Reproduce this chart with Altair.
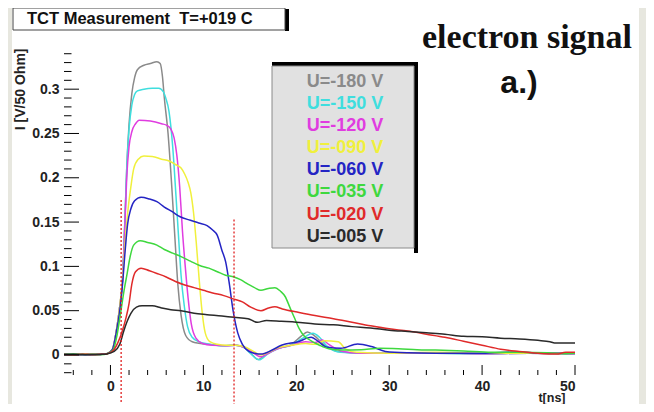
import altair as alt
import pandas as pd

labels = ["U=-180 V", "U=-150 V", "U=-120 V", "U=-090 V",
          "U=-060 V", "U=-035 V", "U=-020 V", "U=-005 V"]
colors = ["#8a8a8a", "#3fdede", "#e03ce0", "#f0f03c",
          "#2424c4", "#3ed83e", "#e02a2a", "#2a2a2a"]

t_180 = [-5, -4, -3, -2, -1, -0.4, 0.2, 0.6, 1.0, 1.3, 1.55, 1.75, 2.0, 2.3, 2.6, 2.9,
         3.6, 4.3, 5.0, 5.35, 5.6, 5.8, 6.2, 6.6, 6.95, 7.25, 7.6, 8.1, 8.8, 10.5, 12.0, 13.5,
         14.3, 15.1, 15.9, 16.8, 18.0, 19.4, 20.5, 21.2, 21.9, 23.0, 24.5, 27.0, 30, 35, 40, 45, 50]
i_180 = [0.0005, 0.0, 0.0008, 0.0003, 0.0008, 0.0015, 0.006, 0.025, 0.055, 0.085, 0.15, 0.21,
         0.26, 0.295, 0.313, 0.322, 0.327, 0.329, 0.331, 0.329, 0.314, 0.29, 0.25, 0.19, 0.13, 0.08,
         0.045, 0.022, 0.015, 0.012, 0.0105, 0.011, 0.009, 0.002, -0.005, 0.001, 0.0075, 0.0115,
         0.021, 0.026, 0.022, 0.0115, 0.004, 0.002, 0.002, 0.002, 0.0015, 0.002, 0.001]

t_150 = [-5, -4, -3, -2, -1, -0.4, 0.2, 0.6, 1.0, 1.3, 1.55, 1.75, 2.0, 2.3, 2.6, 2.9,
         3.6, 4.5, 5.2, 5.7, 5.95, 6.3, 6.7, 7.05, 7.35, 7.6, 7.95, 8.3, 8.8, 9.5, 10.5, 12.0,
         13.5, 14.3, 15.1, 16.0, 16.9, 18.0, 19.4, 20.7, 21.8, 22.5, 23.3, 24.8, 27.5, 30,
         35, 40, 45, 50]
i_150 = [0.0008, 0.0002, 0.0005, 0.0008, 0.0005, 0.0015, 0.006, 0.025, 0.055, 0.085, 0.15, 0.21,
         0.255, 0.282, 0.294, 0.298, 0.300, 0.301, 0.301, 0.297, 0.290, 0.275, 0.235, 0.18, 0.13,
         0.09, 0.055, 0.032, 0.02, 0.015, 0.0125, 0.0105, 0.011, 0.009, 0.0015, -0.0055, 0.001,
         0.007, 0.011, 0.019, 0.0245, 0.02, 0.01, 0.003, 0.002, 0.0025, 0.002, 0.0015, 0.002, 0.0015]

t_120 = [-5, -4, -3, -2, -1, -0.4, 0.2, 0.6, 1.0, 1.3, 1.55, 1.75, 2.0, 2.3, 2.7, 3.1,
         4.3, 5.5, 6.1, 6.5, 6.85, 7.15, 7.45, 7.75, 8.05, 8.35, 8.7, 9.2, 9.9, 11.0, 12.5, 13.5,
         14.5, 15.3, 16.2, 17.0, 18.0, 19.5, 21.0, 22.0, 22.8, 23.5, 25.0, 27.0, 30, 35, 40, 45, 50]
i_120 = [0.0005, 0.0008, 0.0002, 0.0005, 0.001, 0.0015, 0.006, 0.025, 0.055, 0.085, 0.145, 0.2,
         0.235, 0.252, 0.261, 0.265, 0.264, 0.261, 0.259, 0.255, 0.245, 0.225, 0.19, 0.14, 0.1,
         0.065, 0.035, 0.019, 0.013, 0.011, 0.0105, 0.011, 0.008, 0.003, -0.002, 0.002, 0.007,
         0.011, 0.015, 0.014, 0.017, 0.012, 0.004, 0.002, 0.002, 0.0025, 0.0015, 0.002, 0.0015]

t_090 = [-5, -4, -3, -2, -1, -0.4, 0.2, 0.6, 1.0, 1.3, 1.6, 1.9, 2.2, 2.5, 3.0, 3.6,
         4.5, 5.5, 6.3, 7.0, 7.6, 8.0, 8.35, 8.65, 8.95, 9.25, 9.55, 9.85, 10.2, 10.7, 11.5, 12.5,
         13.5, 14.5, 15.4, 16.2, 17.0, 18.0, 19.5, 21.0, 22.0, 23.0, 24.5, 25.3, 26.5, 30,
         35, 40, 45, 50]
i_090 = [0.001, 0.0003, 0.0006, 0.0009, 0.0004, 0.0015, 0.006, 0.025, 0.055, 0.085, 0.13, 0.165,
         0.19, 0.21, 0.221, 0.2245, 0.224, 0.221, 0.219, 0.215, 0.211, 0.204, 0.195, 0.183, 0.16,
         0.125, 0.085, 0.05, 0.025, 0.015, 0.012, 0.011, 0.011, 0.009, 0.004, 0.0, 0.003, 0.008,
         0.011, 0.013, 0.012, 0.016, 0.015, 0.007, 0.003, 0.002, 0.003, 0.002, 0.002, 0.002]

t_060 = [-5, -4, -3, -2, -1, -0.4, 0.2, 0.6, 1.0, 1.3, 1.6, 1.85, 2.2, 2.6, 3.3, 4.2,
         5.0, 5.8, 6.6, 7.5, 8.6, 9.5, 10.4, 11.0, 11.5, 12.0, 12.4, 12.8, 13.2, 13.7, 14.2, 14.9,
         15.5, 16.2, 17.3, 18.4, 20.2, 21.6, 22.4, 23.2, 24.8, 26.6, 28.1, 29.6, 32, 35,
         40, 44, 46, 50]
i_060 = [0.0008, 0.0005, 0.0003, 0.0008, 0.0006, 0.0015, 0.006, 0.024, 0.05, 0.08, 0.12, 0.148,
         0.165, 0.174, 0.178, 0.176, 0.173, 0.167, 0.162, 0.156, 0.152, 0.149, 0.146, 0.141, 0.135,
         0.118, 0.105, 0.08, 0.05, 0.025, 0.012, 0.004, 0.002, 0.001, 0.005, 0.011, 0.015, 0.02,
         0.015, 0.009, 0.0075, 0.0125, 0.0095, 0.004, 0.0025, 0.002, 0.002, 0.0035, 0.002, 0.002]

t_035 = [-5, -4, -3, -2, -1, -0.4, 0.3, 0.7, 1.1, 1.5, 1.8, 2.1, 2.5, 3.2, 4.0, 5.0,
         5.8, 6.7, 7.6, 8.6, 9.6, 10.6, 11.5, 12.4, 13.3, 14.0, 14.8, 15.5, 16.2, 17.0, 17.7, 18.3,
         18.8, 19.3, 19.8, 20.3, 20.8, 21.6, 22.5, 23.5, 25.0, 27.0, 29.0, 31.0, 33.0, 35.0,
         38, 41, 44, 47, 49, 50]
i_035 = [0.0005, 0.001, 0.0004, 0.0008, 0.0006, 0.0012, 0.006, 0.022, 0.048, 0.075, 0.092, 0.11,
         0.124, 0.129, 0.127, 0.124, 0.119, 0.115, 0.111, 0.106, 0.101, 0.098, 0.094, 0.09, 0.088,
         0.085, 0.08, 0.076, 0.073, 0.075, 0.076, 0.072, 0.066, 0.054, 0.042, 0.03, 0.022, 0.016,
         0.011, 0.007, 0.0055, 0.006, 0.0075, 0.007, 0.006, 0.0055, 0.0045, 0.003, 0.003, 0.0025,
         0.0015, 0.002]

t_020 = [-5, -4, -3, -2, -1, -0.4, 0.3, 0.8, 1.3, 1.7, 2.0, 2.3, 2.7, 3.3, 4.2, 5.0,
         6.0, 7.0, 8.0, 9.0, 10.0, 11.0, 12.2, 13.3, 14.2, 15.1, 16.2, 17.0, 17.7, 18.5, 20.3, 22,
         24, 26, 28, 30, 32, 34, 36, 38, 40, 42, 44, 46, 48, 49, 50]
i_020 = [0.0006, 0.0003, 0.0009, 0.0005, 0.0008, 0.0012, 0.005, 0.014, 0.028, 0.043, 0.058, 0.08,
         0.094, 0.098, 0.095, 0.092, 0.088, 0.083, 0.079, 0.076, 0.073, 0.07, 0.067, 0.063, 0.06,
         0.054, 0.05, 0.053, 0.0545, 0.052, 0.048, 0.0445, 0.041, 0.037, 0.033, 0.0295, 0.027,
         0.0235, 0.02, 0.0155, 0.011, 0.0065, 0.004, 0.002, 0.001, 0.003, 0.003]

t_005 = [-5, -4, -3, -2, -1, -0.4, 0.4, 1.0, 1.4, 1.8, 2.2, 2.8, 3.4, 4.5, 5.5, 6.5,
         7.6, 9.0, 10.4, 12.0, 13.3, 14.8, 15.8, 16.8, 18.4, 20, 22, 24, 26, 28, 30, 32,
         34, 36, 38, 40, 42, 44, 46, 47.3, 47.8, 50]
i_005 = [0.0004, 0.0008, 0.0005, 0.0002, 0.0007, 0.0012, 0.004, 0.012, 0.026, 0.038, 0.047, 0.054,
         0.0555, 0.0555, 0.053, 0.051, 0.05, 0.047, 0.0455, 0.044, 0.0425, 0.041, 0.0368, 0.039,
         0.038, 0.037, 0.035, 0.034, 0.032, 0.0305, 0.028, 0.0265, 0.025, 0.0235, 0.021, 0.0205,
         0.019, 0.018, 0.0165, 0.015, 0.0135, 0.0135]

series_t = [t_180, t_150, t_120, t_090, t_060, t_035, t_020, t_005]
series_i = [i_180, i_150, i_120, i_090, i_060, i_035, i_020, i_005]

x_labels = [0, 10, 20, 30, 40, 50]
y_labels = [0, 0.05, 0.1, 0.15, 0.2, 0.25, 0.3]
x_minor = [-4, -2, 2, 4, 6, 8, 12, 14, 16, 18, 22, 24, 26, 28, 32, 34, 36, 38, 42, 44, 46, 48]
y_minor = [-0.02, -0.01, 0.01, 0.02, 0.03, 0.04, 0.06, 0.07, 0.08, 0.09, 0.11, 0.12, 0.13, 0.14,
           0.16, 0.17, 0.18, 0.19, 0.21, 0.22, 0.23, 0.24, 0.26, 0.27, 0.28, 0.29, 0.31, 0.32,
           0.33, 0.34]

marker_t = [1.15, 13.3]
marker_top = [0.175, 0.153]
marker_bottom = [-0.0553, -0.0553]

legend_y = [0.3081, 0.2832, 0.2582, 0.2333, 0.2083, 0.1834, 0.1584, 0.1335]

X_DOM = [-5, 50]
Y_DOM = [-0.0226, 0.3476]
W, H = 511, 328
SANS = "Liberation Sans, Arial, Helvetica, sans-serif"
SERIF = "Liberation Serif, Times New Roman, serif"

rows = []
for lab, ts, vs in zip(labels, series_t, series_i):
    for t, v in zip(ts, vs):
        rows.append({"series": lab, "t": t, "I": v})
curves = pd.DataFrame(rows)

xs = alt.Scale(domain=X_DOM, nice=False, zero=False)
ys = alt.Scale(domain=Y_DOM, nice=False, zero=False)
cs = alt.Scale(domain=labels, range=colors)

one = pd.DataFrame({"a": [0]})


def box(x1, x2, y1, y2, fill, stroke=None, sw=1.0):
    kw = dict(fill=fill, clip=False)
    if stroke is not None:
        kw["stroke"] = stroke
        kw["strokeWidth"] = sw
    else:
        kw["strokeWidth"] = 0
    return alt.Chart(one).mark_rect(**kw).encode(
        x=alt.value(x1), x2=alt.value(x2), y=alt.value(y1), y2=alt.value(y2))


canvas = box(-52, 575, -39, 357, "white")

lines = alt.Chart(curves).mark_line(strokeWidth=1.5, interpolate="monotone", clip=True).encode(
    x=alt.X("t:Q", scale=xs,
            axis=alt.Axis(values=x_labels, ticks=False, domain=False, grid=False, zindex=2,
                          labelFont=SANS, labelFontSize=14, labelFontWeight="bold",
                          labelColor="#222", labelPadding=4, title="t[ns]",
                          titleFont=SANS, titleFontSize=12.5, titleFontWeight="bold",
                          titleColor="#222", titleAlign="right", titleAnchor="end",
                          titleBaseline="bottom", titleX=W - 10, titleY=29)),
    y=alt.Y("I:Q", scale=ys,
            axis=alt.Axis(values=y_labels, format=".2~f", ticks=False, domain=False, grid=False,
                          zindex=2,
                          labelFont=SANS, labelFontSize=14, labelFontWeight="bold",
                          labelColor="#222", labelPadding=5, title="I [V/50 Ohm]",
                          titleFont=SANS, titleFontSize=14, titleFontWeight="bold",
                          titleColor="#222", titleAngle=270, titleAlign="right",
                          titleBaseline="middle", titleX=-44, titleY=1)),
    color=alt.Color("series:N", scale=cs, legend=None),
    detail="series:N",
)

yt_major = alt.Chart(pd.DataFrame({"v": y_labels})).mark_rule(color="black", strokeWidth=1).encode(
    y=alt.Y("v:Q", scale=ys), x=alt.value(0), x2=alt.value(15))
yt_minor = alt.Chart(pd.DataFrame({"v": y_minor})).mark_rule(color="black", strokeWidth=1).encode(
    y=alt.Y("v:Q", scale=ys), x=alt.value(0), x2=alt.value(7.5))
xt_major = alt.Chart(pd.DataFrame({"v": x_labels})).mark_rule(color="black", strokeWidth=1).encode(
    x=alt.X("v:Q", scale=xs), y=alt.value(H), y2=alt.value(H - 10))
xt_minor = alt.Chart(pd.DataFrame({"v": x_minor})).mark_rule(color="black", strokeWidth=1).encode(
    x=alt.X("v:Q", scale=xs), y=alt.value(H), y2=alt.value(H - 5))

markers = alt.Chart(pd.DataFrame({"t": marker_t, "top": marker_top, "bot": marker_bottom})).mark_rule(
    color="#e02020", strokeWidth=1.3, strokeDash=[2, 2], clip=False).encode(
    x=alt.X("t:Q", scale=xs), y=alt.Y("top:Q", scale=ys), y2="bot:Q")

# legend box
leg_shadow_r = box(350, 354, 15, 206, "black")
leg_shadow_t = box(208, 350, 15, 19, "black")
leg_fill = box(208, 350, 19, 201, "#e1e1e1", stroke="#8a8a8a", sw=1)
leg_text = alt.Chart(pd.DataFrame({"series": labels, "ly": legend_y})).mark_text(
    font=SANS, fontSize=18, fontWeight="bold", align="center", baseline="middle").encode(
    x=alt.value(281), y=alt.Y("ly:Q", scale=ys), text="series:N",
    color=alt.Color("series:N", scale=cs, legend=None))

# title box
tb_shadow = box(221, 225, -38, -16, "black")
tb_fill = box(-51, 221, -39, -17, "white", stroke="#444", sw=1)
tb_text = alt.Chart(one).mark_text(
    text="TCT Measurement\u00a0 T=+019 C", font=SANS, fontSize=16.5, fontWeight="bold",
    align="left", baseline="middle", color="#111").encode(x=alt.value(-37), y=alt.value(-28))

el_text = alt.Chart(one).mark_text(
    text="electron signal", font=SERIF, fontSize=34, fontWeight="bold",
    align="center", baseline="alphabetic", color="#111").encode(x=alt.value(463), y=alt.value(1))
a_text = alt.Chart(one).mark_text(
    text="a.)", font=SANS, fontSize=32, fontWeight="bold",
    align="center", baseline="alphabetic", color="#111").encode(x=alt.value(455), y=alt.value(46))

chart = alt.layer(
    canvas, leg_shadow_r, leg_shadow_t, leg_fill, leg_text, lines,
    yt_major, yt_minor, xt_major, xt_minor, markers,
    tb_shadow, tb_fill, tb_text, el_text, a_text,
).properties(
    width=W, height=H,
    autosize=alt.AutoSizeParams(type="none"),
    padding={"left": 56, "top": 39, "right": 71, "bottom": 29},
    background="#e7e7df",
).configure_view(stroke="black", strokeWidth=1)

chart.save("out.html", embed_options={"renderer": "svg", "actions": False})
